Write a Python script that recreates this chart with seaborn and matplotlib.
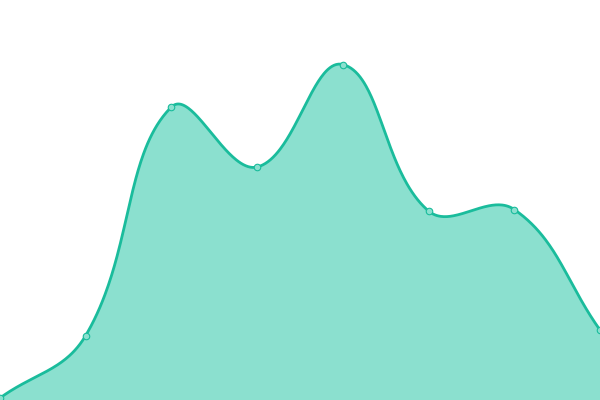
import numpy as np
import pandas as pd
import matplotlib
matplotlib.use("Agg")
import matplotlib.pyplot as plt
import seaborn as sns

# Data
categories = [0, 1, 2, 3, 4, 5, 6, 7]
values = [2, 64.5, 293, 233, 335.5, 189, 190.5, 70]

LINE = "#1ABC9C"
FILL = "#8BE0CF"
TENSION = 0.4
W, H = 600.0, 400.0


def spline_path(xs, ys, n=80):
    """Bezier spline (distance-weighted control points) built in screen space."""
    xs = np.asarray(xs, float)
    ys = np.asarray(ys, float)
    sx = (xs - xs[0]) / (xs[-1] - xs[0]) * W
    sy = ys.copy()
    pts = np.column_stack([sx, sy])
    m = len(pts)
    cprev = np.zeros_like(pts)
    cnext = np.zeros_like(pts)
    for i in range(m):
        prev = pts[max(i - 1, 0)]
        cur = pts[i]
        nxt = pts[min(i + 1, m - 1)]
        d01 = np.hypot(*(cur - prev))
        d12 = np.hypot(*(nxt - cur))
        tot = d01 + d12
        s01 = d01 / tot if tot else 0
        s12 = d12 / tot if tot else 0
        cprev[i] = cur - TENSION * s01 * (nxt - prev)
        cnext[i] = cur + TENSION * s12 * (nxt - prev)
    cprev[:, 0] = np.clip(cprev[:, 0], 0, W)
    cnext[:, 0] = np.clip(cnext[:, 0], 0, W)
    cprev[:, 1] = np.clip(cprev[:, 1], 0, H)
    cnext[:, 1] = np.clip(cnext[:, 1], 0, H)
    out = []
    t = np.linspace(0, 1, n, endpoint=False)[:, None]
    for i in range(m - 1):
        p0, c1, c2, p1 = pts[i], cnext[i], cprev[i + 1], pts[i + 1]
        seg = ((1 - t) ** 3 * p0 + 3 * (1 - t) ** 2 * t * c1
               + 3 * (1 - t) * t ** 2 * c2 + t ** 3 * p1)
        out.append(seg)
    out.append(pts[-1:])
    out = np.vstack(out)
    ox = out[:, 0] / W * (xs[-1] - xs[0]) + xs[0]
    return ox, out[:, 1]


sns.set_theme(style="white")
fig = plt.figure(figsize=(6, 4), dpi=100)
ax = fig.add_axes([0, 0, 1, 1])

sx, sy = spline_path(categories, values)
smooth = pd.DataFrame({"x": sx, "y": sy})
pts = pd.DataFrame({"x": categories, "y": values})

ax.fill_between(smooth["x"], 0, smooth["y"], color=FILL, linewidth=0, zorder=1)
sns.lineplot(data=smooth, x="x", y="y", ax=ax, color=LINE, linewidth=2.0,
             sort=False, zorder=2)
sns.scatterplot(data=pts, x="x", y="y", ax=ax, s=22, color=FILL,
                edgecolor=LINE, linewidth=0.8, zorder=3)

ax.set_xlim(0, 7)
ax.set_ylim(0, 400)
ax.set_axis_off()

fig.savefig("out.png", dpi=100)
